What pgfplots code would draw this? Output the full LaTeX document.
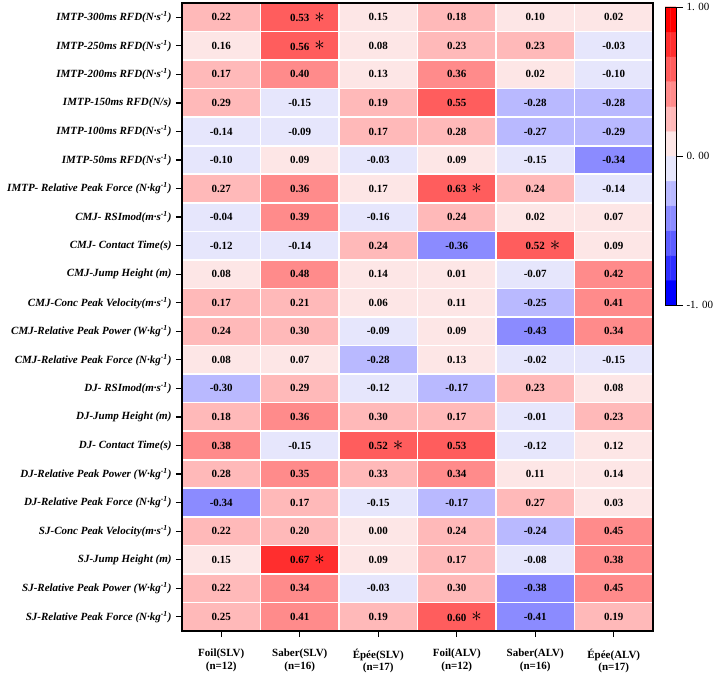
\documentclass[border=0pt]{standalone}
\usepackage{pgfplots}
\pgfplotsset{compat=1.18}
\usepackage{pgfplotstable}
\usepackage{graphicx}
\usepackage{fontspec}
\setmainfont{Liberation Serif}

\pgfplotstableread{
x y v c s
0 0 0.22 0.22 0
1 0 0.53 0.53 1
2 0 0.15 0.15 0
3 0 0.18 0.18 0
4 0 0.10 0.10 0
5 0 0.02 0.02 0
0 1 0.16 0.16 0
1 1 0.56 0.56 1
2 1 0.08 0.08 0
3 1 0.23 0.23 0
4 1 0.23 0.23 0
5 1 -0.03 -0.03 0
0 2 0.17 0.17 0
1 2 0.40 0.40 0
2 2 0.13 0.13 0
3 2 0.36 0.36 0
4 2 0.02 0.02 0
5 2 -0.10 -0.10 0
0 3 0.29 0.29 0
1 3 -0.15 -0.15 0
2 3 0.19 0.19 0
3 3 0.55 0.55 0
4 3 -0.28 -0.28 0
5 3 -0.28 -0.28 0
0 4 -0.14 -0.14 0
1 4 -0.09 -0.09 0
2 4 0.17 0.17 0
3 4 0.28 0.28 0
4 4 -0.27 -0.27 0
5 4 -0.29 -0.29 0
0 5 -0.10 -0.10 0
1 5 0.09 0.09 0
2 5 -0.03 -0.03 0
3 5 0.09 0.09 0
4 5 -0.15 -0.15 0
5 5 -0.34 -0.34 0
0 6 0.27 0.27 0
1 6 0.36 0.36 0
2 6 0.17 0.16 0
3 6 0.63 0.63 1
4 6 0.24 0.24 0
5 6 -0.14 -0.14 0
0 7 -0.04 -0.04 0
1 7 0.39 0.39 0
2 7 -0.16 -0.16 0
3 7 0.24 0.24 0
4 7 0.02 0.02 0
5 7 0.07 0.07 0
0 8 -0.12 -0.12 0
1 8 -0.14 -0.14 0
2 8 0.24 0.24 0
3 8 -0.36 -0.36 0
4 8 0.52 0.52 1
5 8 0.09 0.09 0
0 9 0.08 0.08 0
1 9 0.48 0.48 0
2 9 0.14 0.14 0
3 9 0.01 0.01 0
4 9 -0.07 -0.07 0
5 9 0.42 0.42 0
0 10 0.17 0.17 0
1 10 0.21 0.21 0
2 10 0.06 0.06 0
3 10 0.11 0.11 0
4 10 -0.25 -0.25 0
5 10 0.41 0.41 0
0 11 0.24 0.24 0
1 11 0.30 0.30 0
2 11 -0.09 -0.09 0
3 11 0.09 0.09 0
4 11 -0.43 -0.43 0
5 11 0.34 0.34 0
0 12 0.08 0.08 0
1 12 0.07 0.07 0
2 12 -0.28 -0.28 0
3 12 0.13 0.13 0
4 12 -0.02 -0.02 0
5 12 -0.15 -0.15 0
0 13 -0.30 -0.30 0
1 13 0.29 0.29 0
2 13 -0.12 -0.12 0
3 13 -0.17 -0.17 0
4 13 0.23 0.23 0
5 13 0.08 0.08 0
0 14 0.18 0.18 0
1 14 0.36 0.36 0
2 14 0.30 0.30 0
3 14 0.17 0.17 0
4 14 -0.01 -0.01 0
5 14 0.23 0.23 0
0 15 0.38 0.38 0
1 15 -0.15 -0.15 0
2 15 0.52 0.52 1
3 15 0.53 0.53 0
4 15 -0.12 -0.12 0
5 15 0.12 0.12 0
0 16 0.28 0.28 0
1 16 0.35 0.35 0
2 16 0.33 0.33 0
3 16 0.34 0.34 0
4 16 0.11 0.11 0
5 16 0.14 0.14 0
0 17 -0.34 -0.34 0
1 17 0.17 0.17 0
2 17 -0.15 -0.15 0
3 17 -0.17 -0.17 0
4 17 0.27 0.27 0
5 17 0.03 0.03 0
0 18 0.22 0.22 0
1 18 0.20 0.20 0
2 18 0.00 0.001 0
3 18 0.24 0.24 0
4 18 -0.24 -0.24 0
5 18 0.45 0.45 0
0 19 0.15 0.15 0
1 19 0.67 0.67 1
2 19 0.09 0.09 0
3 19 0.17 0.17 0
4 19 -0.08 -0.08 0
5 19 0.38 0.38 0
0 20 0.22 0.22 0
1 20 0.34 0.34 0
2 20 -0.03 -0.03 0
3 20 0.30 0.30 0
4 20 -0.38 -0.38 0
5 20 0.45 0.45 0
0 21 0.25 0.25 0
1 21 0.41 0.41 0
2 21 0.19 0.19 0
3 21 0.60 0.60 1
4 21 -0.41 -0.41 0
5 21 0.19 0.19 0
}\heat

\pgfplotstableread{
x y c
0 -0.9167 -0.9167
1 -0.9167 -0.9167
0 -0.75 -0.75
1 -0.75 -0.75
0 -0.5833 -0.5833
1 -0.5833 -0.5833
0 -0.4167 -0.4167
1 -0.4167 -0.4167
0 -0.25 -0.25
1 -0.25 -0.25
0 -0.0833 -0.0833
1 -0.0833 -0.0833
0 0.0833 0.0833
1 0.0833 0.0833
0 0.25 0.25
1 0.25 0.25
0 0.4167 0.4167
1 0.4167 0.4167
0 0.5833 0.5833
1 0.5833 0.5833
0 0.75 0.75
1 0.75 0.75
0 0.9167 0.9167
1 0.9167 0.9167
}\cbar

\pgfplotsset{
  hmcolors/.style={
    colormap={hm}{rgb255=(0,0,255) rgb255=(46,46,255) rgb255=(93,93,255) rgb255=(139,139,255) rgb255=(185,185,255) rgb255=(230,230,252) rgb255=(253,230,230) rgb255=(255,185,185) rgb255=(255,139,139) rgb255=(255,93,93) rgb255=(255,46,46) rgb255=(255,0,0)},
    colormap access=piecewise constant,
    point meta min=-1, point meta max=1,
  }
}

\begin{document}
\begin{tikzpicture}
\useasboundingbox (0,0) rectangle (720pt,673pt);
\begin{axis}[
  hmcolors,
  at={(182pt,42pt)}, anchor=south west,
  scale only axis, width=471pt, height=628pt,
  xmin=-0.5, xmax=5.5, ymin=-0.5, ymax=21.5, y dir=reverse,
  xtick={0,...,5}, ytick={0,...,21},
  xticklabels={{Foil(SLV)\\(n=12)},{Saber(SLV)\\(n=16)},{Épée(SLV)\\(n=17)},{Foil(ALV)\\(n=12)},{Saber(ALV)\\(n=16)},{Épée(ALV)\\(n=17)}},
  yticklabels={
    {IMTP-300ms RFD(N·s\textsuperscript{-1})},
    {IMTP-250ms RFD(N·s\textsuperscript{-1})},
    {IMTP-200ms RFD(N·s\textsuperscript{-1})},
    {IMTP-150ms RFD(N/s)},
    {IMTP-100ms RFD(N·s\textsuperscript{-1})},
    {IMTP-50ms RFD(N·s\textsuperscript{-1})},
    {IMTP- Relative Peak Force (N·kg\textsuperscript{-1})},
    {CMJ- RSImod(m·s\textsuperscript{-1})},
    {CMJ- Contact Time(s)},
    {CMJ-Jump Height (m)},
    {CMJ-Conc Peak Velocity(m·s\textsuperscript{-1})},
    {CMJ-Relative Peak Power (W·kg\textsuperscript{-1})},
    {CMJ-Relative Peak Force (N·kg\textsuperscript{-1})},
    {DJ- RSImod(m·s\textsuperscript{-1})},
    {DJ-Jump Height (m)},
    {DJ- Contact Time(s)},
    {DJ-Relative Peak Power (W·kg\textsuperscript{-1})},
    {DJ-Relative Peak Force (N·kg\textsuperscript{-1})},
    {SJ-Conc Peak Velocity(m·s\textsuperscript{-1})},
    {SJ-Jump Height (m)},
    {SJ-Relative Peak Power (W·kg\textsuperscript{-1})},
    {SJ-Relative Peak Force (N·kg\textsuperscript{-1})}},
  tick align=outside, tick pos=left,
  major tick length=6pt,
  tick style={black, line width=1.2pt},
  axis line style={black, line width=1.2pt},
  xticklabel style={align=center, font=\bfseries\fontsize{11}{12.5}\selectfont, yshift=-8.5pt},
  yticklabel style={font=\bfseries\itshape\fontsize{11}{13}\selectfont, xshift=-1pt},
  minor xtick={0.5,1.5,...,4.5},
  minor ytick={0.5,1.5,...,20.5},
  minor tick length=0pt,
  xminorgrids, yminorgrids,
  minor grid style={white, line width=1.6pt},
  axis on top,
]
\addplot[matrix plot*, mesh/cols=6, point meta=explicit] table[x=x, y=y, meta=c] {\heat};
\addplot[only marks, mark=none, point meta=explicit symbolic,
  visualization depends on={\thisrow{s} \as \st},
  nodes near coords={\pgfplotspointmeta\ifdim\st pt>0.5pt\makebox[0pt][l]{\hspace{5pt}\raisebox{-0.5pt}{\scalebox{1.9}{$\ast$}}}\fi},
  every node near coord/.append style={anchor=center, text=black, font=\bfseries\fontsize{11}{13}\selectfont},
] table[x=x, y=y, meta=v] {\heat};
\end{axis}

\begin{axis}[
  hmcolors,
  at={(665pt,368pt)}, anchor=south west,
  scale only axis, width=11pt, height=298pt,
  xmin=-0.5, xmax=1.5, ymin=-1, ymax=1,
  xtick=\empty, ytick={-1,0,1},
  yticklabels={{-1. 00},{0. 00},{1. 00}},
  yticklabel pos=right, ytick pos=right,
  tick align=outside, major tick length=7pt,
  tick style={black, line width=0.8pt},
  axis line style={black, line width=0.8pt},
  yticklabel style={font=\fontsize{11}{13}\selectfont},
  axis on top,
]
\addplot[matrix plot*, mesh/cols=2, point meta=explicit] table[x=x, y=y, meta=c] {\cbar};
\end{axis}
\end{tikzpicture}
\end{document}
